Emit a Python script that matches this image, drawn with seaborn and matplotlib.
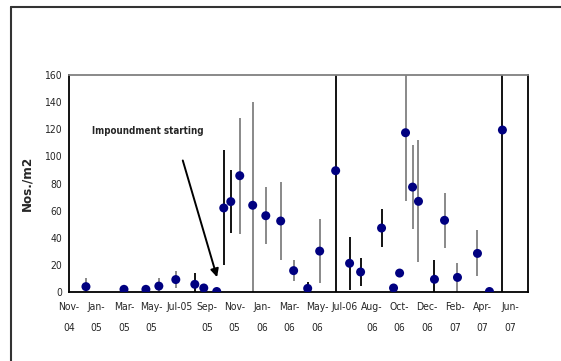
import matplotlib
matplotlib.use("Agg")
import matplotlib.pyplot as plt
import seaborn as sns
import pandas as pd
from matplotlib.lines import Line2D
from matplotlib import font_manager

# sampling time, months since Nov 2004
sample_month = [1.23, 3.99, 5.58, 6.52, 7.75, 9.13, 9.78, 10.72, 11.23, 11.74,
                12.39, 13.33, 14.28, 15.36, 16.30, 17.32, 18.19, 19.35, 20.36, 21.16,
                22.68, 23.55, 23.99, 24.42, 24.93, 25.36, 26.52, 27.25, 28.19, 29.64,
                30.51, 31.45]
density = [4, 2, 2, 4.4, 9.2, 5.7, 3, 0.4, 62, 66.7,
           85.8, 64, 56.3, 52.4, 15.8, 2.7, 30.2, 89.5, 21.2, 14.8,
           47.2, 3, 14, 117.5, 77.4, 66.9, 9.4, 52.9, 10.8, 28.5,
           0.4, 119.5]
std_err = [6, 0, 0, 6, 6.5, 8, 2, 0, 42.4, 23,
           42.7, 76, 21, 29, 8, 5, 23.5, 100, 19.5, 10,
           14, 2, 0, 50, 31, 45, 14, 20.5, 10.5, 17,
           0, 120]
# error bar shading group as in the source sheet
bar_group = ["b", "b", "b", "b", "b", "a", "a", "a", "a", "a",
             "b", "b", "b", "b", "b", "a", "b", "a", "a", "a",
             "a", "a", "a", "b", "b", "b", "a", "b", "b", "b",
             "a", "a"]

tick_month = list(range(0, 33, 2))
tick_labels = ["Nov-\n04", "Jan-\n05", "Mar-\n05", "May-\n05", "Jul-05", "Sep-\n05",
               "Nov-\n05", "Jan-\n06", "Mar-\n06", "May-\n06", "Jul-06", "Aug-\n06",
               "Oct-\n06", "Dec-\n06", "Feb-\n07", "Apr-\n07", "Jun-\n07"]

df = pd.DataFrame({"month": sample_month, "density": density,
                   "err": std_err, "group": bar_group})

sns.set_style("white")
names = {f.name for f in font_manager.fontManager.ttflist}
if "Liberation Sans Narrow" in names:
    plt.rcParams["font.family"] = ["Liberation Sans Narrow", "DejaVu Sans"]
else:
    plt.rcParams["font.family"] = ["DejaVu Sans"]
    plt.rcParams["font.stretch"] = "condensed"

fig = plt.figure(figsize=(5.61, 3.61), dpi=100)
ax = fig.add_axes([0.123, 0.191, 0.818, 0.601])

bar_colors = {"a": "black", "b": "#808080"}
for g, sub in df.groupby("group"):
    ax.vlines(sub["month"], sub["density"] - sub["err"], sub["density"] + sub["err"],
              colors=bar_colors[g], lw=1.3, zorder=2)

sns.scatterplot(data=df, x="month", y="density", ax=ax, color="#000080",
                s=42, edgecolor="none", zorder=3, legend=False)

ax.set_xlim(0, 33.3)
ax.set_ylim(0, 160)
ax.set_yticks(range(0, 161, 20))
ax.set_xticks(tick_month)
ax.set_xticklabels(tick_labels, linespacing=2.3, va="top")
ax.tick_params(axis="x", direction="inout", length=7, width=1, pad=4, labelsize=7.5)
ax.tick_params(axis="y", direction="out", length=3, width=1, pad=2, labelsize=7.5)
ax.set_xlabel("")
ax.set_ylabel("Nos./m2", fontsize=9.5, fontweight="bold", labelpad=8)

for side in ["left", "bottom", "right"]:
    ax.spines[side].set_color("black")
    ax.spines[side].set_linewidth(1.3)
ax.spines["top"].set_color("#808080")
ax.spines["top"].set_linewidth(1.3)

ax.text(5.7, 119, "Impoundment starting", fontsize=7, fontweight="bold",
        ha="center", va="center")
ax.annotate("", xy=(10.8, 9), xytext=(8.2, 99),
            arrowprops=dict(arrowstyle="-|>", color="black", lw=1.4, mutation_scale=12))

# outer chart frame (cropped)
fig.add_artist(Line2D([11 / 561, 1], [1 - 7 / 361, 1 - 7 / 361], color="#333333", lw=1.5))
fig.add_artist(Line2D([11 / 561, 11 / 561], [0, 1 - 7 / 361], color="#333333", lw=1.5))

fig.savefig("out.png", dpi=100)
